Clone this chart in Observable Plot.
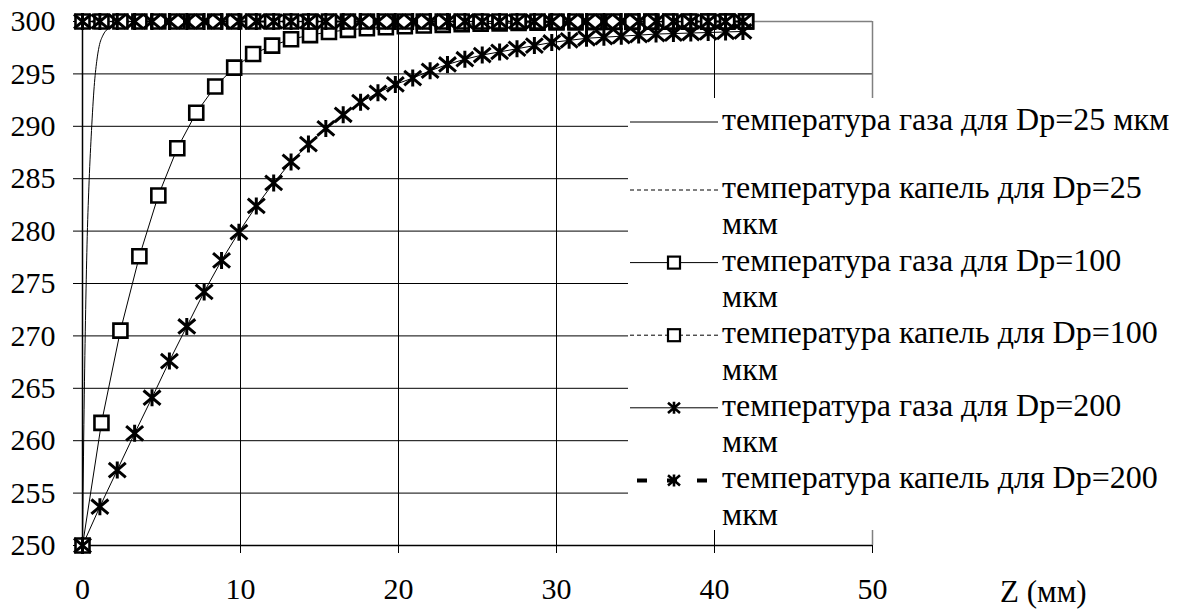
<!DOCTYPE html>
<html>
<head>
<meta charset="utf-8">
<script src="https://cdn.jsdelivr.net/npm/d3@7"></script>
<script src="https://cdn.jsdelivr.net/npm/@observablehq/plot@0.6"></script>
<style>
  html, body { margin: 0; padding: 0; background: #fff; }
  #wrap { position: relative; width: 1186px; height: 609px; }
  #wrap svg { display: block; }
  #overlay { position: absolute; left: 0; top: 0; }
</style>
</head>
<body>
<div id="wrap"></div>
<script>
// ---- data ----
const xTicks = [0, 10, 20, 30, 40, 50];
const yTicks = [250, 255, 260, 265, 270, 275, 280, 285, 290, 295, 300];

// Dp = 25 µm (gas curve, no markers)
const x25 = [0, 0.1, 0.2, 0.3, 0.42, 0.57, 0.74, 0.9, 1.05, 1.3, 1.6, 2.0, 2.5, 3.0, 42];
const gas25 = [250, 263, 272.5, 279.5, 284.8, 289.6, 293.8, 296.2, 297.6, 298.7, 299.3, 299.7, 299.9, 300, 300];
const drop25 = [300, 300, 300, 300, 300, 300, 300, 300, 300, 300, 300, 300, 300, 300, 300];

// Dp = 100 µm
const x100 = [0, 1.2, 2.4, 3.6, 4.8, 6.0, 7.2, 8.4, 9.6, 10.8, 12.0, 13.2, 14.4, 15.6, 16.8, 18.0, 19.2, 20.4,
  21.6, 22.8, 24.0, 25.2, 26.4, 27.6, 28.8, 30.0, 31.2, 32.4, 33.6, 34.8, 36.0, 37.2, 38.4, 39.6, 40.8, 42.0];
const gas100 = [250, 261.7, 270.5, 277.6, 283.4, 287.9, 291.3, 293.8, 295.6, 296.9, 297.7, 298.3, 298.7, 299.0,
  299.2, 299.35, 299.45, 299.55, 299.62, 299.68, 299.74, 299.78, 299.82, 299.86, 299.88, 299.9, 299.92, 299.94,
  299.95, 299.96, 299.97, 299.98, 299.98, 299.99, 299.99, 300];
const drop100 = [300, 300, 300, 300, 300, 300, 300, 300, 300, 300, 300, 300, 300, 300, 300, 300, 300, 300,
  300, 300, 300, 300, 300, 300, 300, 300, 300, 300, 300, 300, 300, 300, 300, 300, 300, 300];

// Dp = 200 µm
const x200 = [0, 1.1, 2.2, 3.3, 4.4, 5.5, 6.6, 7.7, 8.8, 9.9, 11.0, 12.1, 13.2, 14.3, 15.4, 16.5, 17.6, 18.7,
  19.8, 20.9, 22.0, 23.1, 24.2, 25.3, 26.4, 27.5, 28.6, 29.7, 30.8, 31.9, 33.0, 34.1, 35.2, 36.3, 37.4, 38.5,
  39.6, 40.7, 41.8];
const gas200 = [250, 253.7, 257.2, 260.7, 264.1, 267.6, 270.9, 274.2, 277.2, 279.9, 282.4, 284.6, 286.6, 288.3,
  289.8, 291.1, 292.3, 293.2, 294.0, 294.6, 295.3, 295.9, 296.4, 296.8, 297.1, 297.4, 297.7, 298.0, 298.2,
  298.4, 298.5, 298.6, 298.7, 298.8, 298.85, 298.9, 298.95, 299.0, 299.05];
const drop200 = [300, 300, 300, 300, 300, 300, 300, 300, 300, 300, 300, 300, 300, 300, 300, 300, 300, 300,
  300, 300, 300, 300, 300, 300, 300, 300, 300, 300, 300, 300, 300, 300, 300, 300, 300, 300, 300, 300, 300];

const legendLabels = [
  ["температура газа для Dp=25 мкм"],
  ["температура капель для Dp=25", "мкм"],
  ["температура газа для Dp=100", "мкм"],
  ["температура капель для Dp=100", "мкм"],
  ["температура газа для Dp=200", "мкм"],
  ["температура капель для Dp=200", "мкм"]
];
const xLabel = "Z (мм)";

// ---- helpers ----
const zip = (xs, ys) => xs.map((x, i) => ({x, y: ys[i]}));
const squareSym = {
  draw(ctx, size) {
    const h = Math.sqrt(size / Math.PI);
    ctx.moveTo(-h, -h); ctx.lineTo(h, -h); ctx.lineTo(h, h); ctx.lineTo(-h, h); ctx.closePath();
  }
};
const starSym = {
  draw(ctx, size) {
    const r = Math.sqrt(size / Math.PI);
    ctx.moveTo(-r, -0.85 * r); ctx.lineTo(r, 0.85 * r);
    ctx.moveTo(-r, 0.85 * r); ctx.lineTo(r, -0.85 * r);
    ctx.moveTo(0, -r); ctx.lineTo(0, r);
  }
};

const FONT = "'Liberation Serif', 'Times New Roman', serif";
const d25g = zip(x25, gas25), d25d = zip(x25, drop25);
const d100g = zip(x100, gas100), d100d = zip(x100, drop100);
const d200g = zip(x200, gas200), d200d = zip(x200, drop200);

const chart = Plot.plot({
  width: 1186,
  height: 609,
  marginLeft: 82,
  marginRight: 314,
  marginTop: 21,
  marginBottom: 64,
  style: {color: "black", background: "white"},
  x: {domain: [0, 50]},
  y: {domain: [250, 300]},
  marks: [
    Plot.gridY(yTicks.filter(v => v > 250 && v < 300), {stroke: "black", strokeOpacity: 1}),
    Plot.gridX(xTicks.filter(v => v > 0 && v < 50), {stroke: "black", strokeOpacity: 1}),
    Plot.ruleY([300], {stroke: "#808080", strokeWidth: 1.5}),
    Plot.ruleX([50], {stroke: "#808080", strokeWidth: 1.5}),
    Plot.axisY(yTicks, {tickSize: 9, tickPadding: 18, label: null, fontSize: 30, stroke: "black"}),
    Plot.axisX(xTicks, {tickSize: 8, tickPadding: 24, label: null, fontSize: 30, stroke: "black"}),
    Plot.ruleX([0], {stroke: "black", strokeWidth: 1.5}),
    Plot.ruleY([250], {stroke: "black", strokeWidth: 1.5}),
    // Dp=25
    Plot.line(d25g, {x: "x", y: "y", stroke: "black", strokeWidth: 1, curve: "monotone-x"}),
    Plot.line(d25d, {x: "x", y: "y", stroke: "black", strokeWidth: 1, strokeDasharray: "4,3"}),
    // Dp=100
    Plot.line(d100g, {x: "x", y: "y", stroke: "black", strokeWidth: 1}),
    Plot.line(d100d, {x: "x", y: "y", stroke: "black", strokeWidth: 1, strokeDasharray: "4,3"}),
    // Dp=200
    Plot.line(d200g, {x: "x", y: "y", stroke: "black", strokeWidth: 1}),
    Plot.line(d200d, {x: "x", y: "y", stroke: "black", strokeWidth: 2, strokeDasharray: "6,4"}),
    Plot.dot(d100g, {x: "x", y: "y", symbol: squareSym, r: 7, stroke: "black", fill: "white", strokeWidth: 2.6}),
    Plot.dot(d100d, {x: "x", y: "y", symbol: squareSym, r: 7, stroke: "black", fill: "white", strokeWidth: 2.6}),
    Plot.dot(d200g, {x: "x", y: "y", symbol: starSym, r: 8.5, stroke: "black", fill: "none", strokeWidth: 3}),
    Plot.dot(d200d, {x: "x", y: "y", symbol: starSym, r: 8.5, stroke: "black", fill: "none", strokeWidth: 3})
  ]
});

const wrap = document.getElementById("wrap");
wrap.appendChild(chart);
d3.select(chart).attr("font-family", FONT);
d3.select(chart).selectAll("g").attr("font-family", null);
d3.select(chart).selectAll("text").attr("font-family", FONT);

// ---- legend & axis title, overlaid on the plot ----
const ov = d3.select(wrap).append("svg")
  .attr("id", "overlay")
  .attr("width", 1186).attr("height", 609)
  .attr("text-anchor", "start");

ov.append("text")
  .attr("x", 1000).attr("y", 602).attr("fill", "black")
  .attr("font-family", FONT).attr("font-size", 31)
  .text(xLabel);

ov.append("rect").attr("x", 628).attr("y", 98).attr("width", 558).attr("height", 432)
  .attr("fill", "#ffffff").attr("stroke", "none");

const rowY = [122, 190, 262.6, 335.2, 407.8, 480.4];
const lineH = 36.3;
const styles = [
  {dash: null, w: 1, sym: null},
  {dash: "4,3", w: 1, sym: null},
  {dash: null, w: 1, sym: "sq"},
  {dash: "4,3", w: 1, sym: "sq"},
  {dash: null, w: 1, sym: "st"},
  {dash: "10,20", w: 4, sym: "st"}
];
styles.forEach((s, i) => {
  const y = rowY[i];
  const ln = ov.append("line")
    .attr("x1", s.w > 2 ? 637 : 630).attr("x2", 718).attr("y1", y).attr("y2", y)
    .attr("stroke", "black").attr("stroke-width", s.w);
  if (s.dash) ln.attr("stroke-dasharray", s.dash);
  if (s.sym === "sq") {
    ov.append("rect").attr("x", 668).attr("y", y - 6).attr("width", 12).attr("height", 12)
      .attr("fill", "white").attr("stroke", "black").attr("stroke-width", 2.2);
  } else if (s.sym === "st") {
    const p = d3.path(); starSym.draw(p, 6 * 6 * Math.PI);
    ov.append("path").attr("d", p.toString()).attr("transform", `translate(674,${y})`)
      .attr("fill", "none").attr("stroke", "black").attr("stroke-width", 2.6);
  }
  legendLabels[i].forEach((t, j) => {
    ov.append("text")
      .attr("x", 722).attr("y", y + 8 + j * lineH).attr("fill", "black")
      .attr("font-family", FONT).attr("font-size", 32)
      .text(t);
  });
});
</script>
</body>
</html>
